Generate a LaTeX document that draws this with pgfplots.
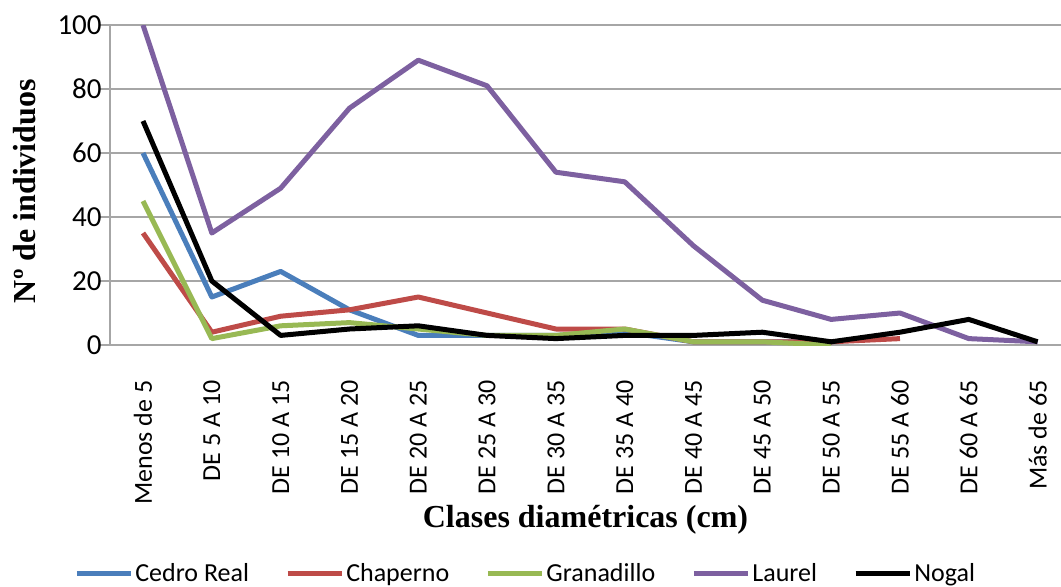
\documentclass[border=0pt]{standalone}
\usepackage{fontspec}
\setmainfont{Liberation Serif}
\setsansfont{Carlito}
\usepackage{pgfplots}
\pgfplotsset{compat=1.18}

\definecolor{cedro}{HTML}{4A7EBB}
\definecolor{chaperno}{HTML}{BE4B48}
\definecolor{granadillo}{HTML}{98B954}
\definecolor{laurel}{HTML}{7D60A0}
\definecolor{gridgray}{HTML}{A6A6A6}

\begin{document}
\begin{tikzpicture}
\useasboundingbox (-55pt,-120.5pt) rectangle (475.5pt,172.5pt);
\begin{axis}[
  scale only axis, width=475.5pt, height=160pt,
  xmin=-0.48, xmax=13.34, ymin=0, ymax=100,
  axis x line*=bottom, axis y line*=left,
  axis line style={gridgray, line width=0.8pt, -},
  ymajorgrids, grid style={gridgray, line width=0.8pt},
  ytick={0,20,40,60,80,100},
  yticklabels={0,20,40,60,80,100},
  xtick={0,...,13},
  xticklabels={Menos de 5,DE 5 A 10,DE 10 A 15,DE 15 A 20,DE 20 A 25,DE 25 A 30,DE 30 A 35,DE 35 A 40,DE 40 A 45,DE 45 A 50,DE 50 A 55,DE 55 A 60,DE 60 A 65,Más de 65},
  tick align=outside,
  xtick style={draw=none},
  ytick style={gridgray, line width=0.8pt},
  major tick length=5pt,
  xticklabel style={font=\fontsize{13}{15}\selectfont\sffamily, rotate=90, anchor=east, inner sep=0pt},
  xticklabel shift=12.5pt,
  yticklabel style={font=\fontsize{14.5}{16}\selectfont\sffamily, inner sep=0pt, anchor=east},
  yticklabel shift=-1pt,
  ylabel={\textbf{Nº de individuos}},
  ylabel style={font=\fontsize{16}{18}\selectfont, at={(axis description cs:-0.0894,0.481)}, anchor=center},
  xlabel={\textbf{Clases diamétricas (cm)}},
  xlabel style={font=\fontsize{16}{18}\selectfont, at={(axis description cs:0.5,-0.547)}, anchor=center},
  legend columns=5,
  legend style={at={(axis description cs:0.437,-0.715)}, anchor=center, draw=none,
    font=\fontsize{13}{15}\selectfont\sffamily, nodes={inner sep=1pt},
    /tikz/every even column/.append style={column sep=17pt}},
  legend image code/.code={\draw[#1, line width=2.6pt] (0pt,0pt) -- (27pt,0pt);},
  every axis plot/.append style={line width=2.5pt, line join=round},
]
\addplot[cedro] coordinates {(0,60) (1,15) (2,23) (3,11) (4,3) (5,3) (6,3) (7,4) (8,1) (9,1) (10,1)};
\addlegendentry{Cedro Real}
\addplot[chaperno] coordinates {(0,35) (1,4) (2,9) (3,11) (4,15) (5,10) (6,5) (7,5) (8,1) (9,1) (10,1) (11,2)};
\addlegendentry{Chaperno}
\addplot[granadillo] coordinates {(0,45) (1,2) (2,6) (3,7) (4,5) (5,3) (6,3) (7,5) (8,1) (9,1) (10,0)};
\addlegendentry{Granadillo}
\addplot[laurel] coordinates {(0,100) (1,35) (2,49) (3,74) (4,89) (5,81) (6,54) (7,51) (8,31) (9,14) (10,8) (11,10) (12,2) (13,1)};
\addlegendentry{Laurel}
\addplot[black] coordinates {(0,70) (1,20) (2,3) (3,5) (4,6) (5,3) (6,2) (7,3) (8,3) (9,4) (10,1) (11,4) (12,8) (13,1)};
\addlegendentry{Nogal}
\end{axis}
\end{tikzpicture}
\end{document}
